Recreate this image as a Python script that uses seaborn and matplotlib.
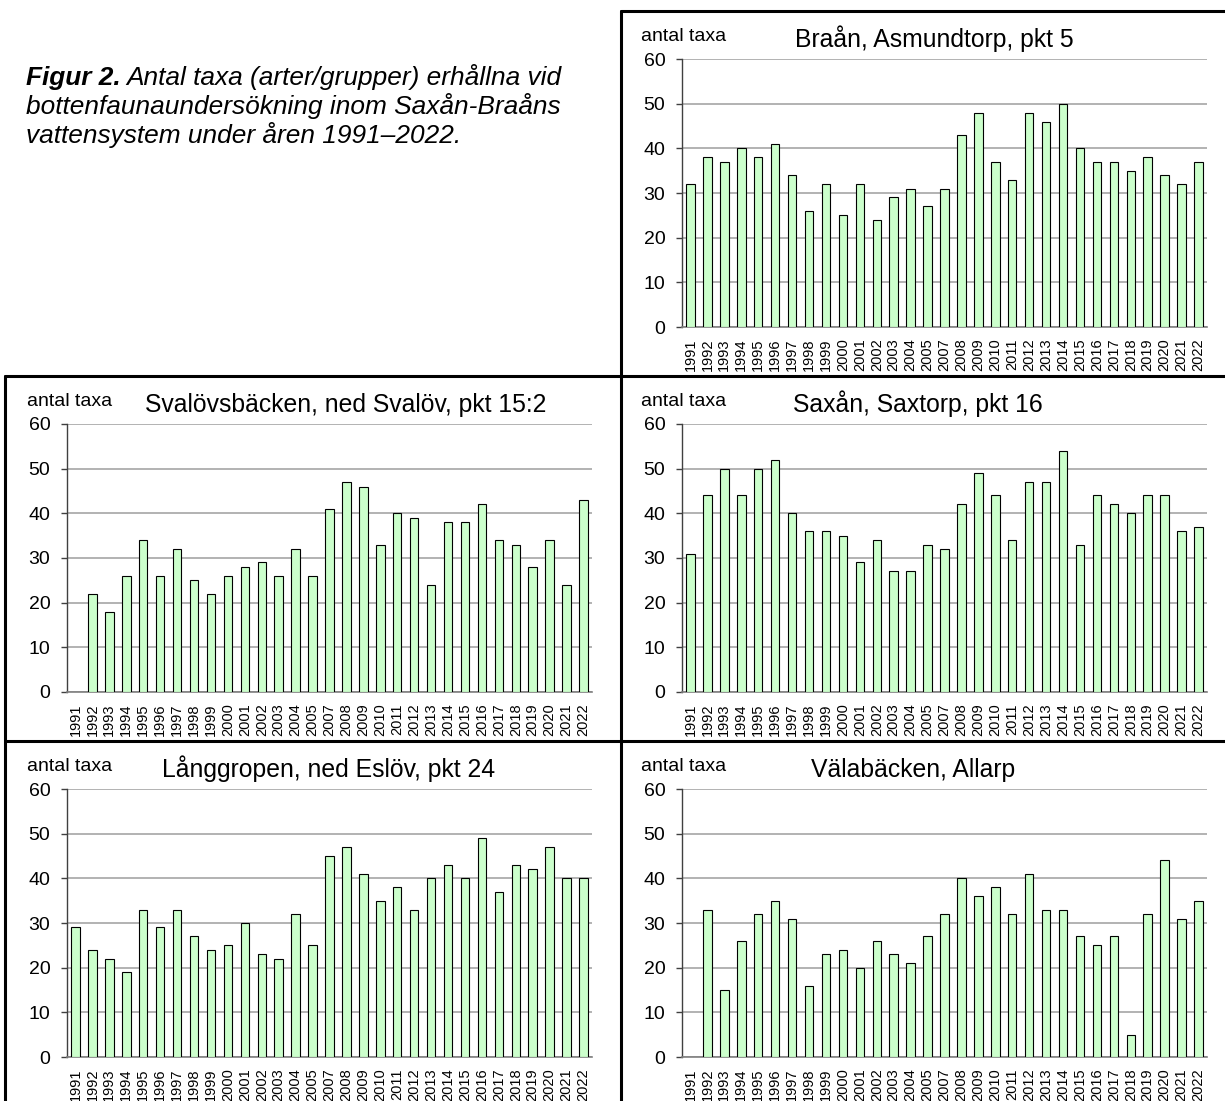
import numpy as np
import pandas as pd
import matplotlib
matplotlib.use("Agg")
import matplotlib.pyplot as plt
import seaborn as sns
from matplotlib.lines import Line2D

# Sampling years (no survey in 2006)
years = ["1991", "1992", "1993", "1994", "1995", "1996", "1997", "1998",
         "1999", "2000", "2001", "2002", "2003", "2004", "2005", "2007",
         "2008", "2009", "2010", "2011", "2012", "2013", "2014", "2015",
         "2016", "2017", "2018", "2019", "2020", "2021", "2022"]

# Number of taxa per site
braan = [32, 38, 37, 40, 38, 41, 34, 26, 32, 25, 32, 24, 29, 31, 27, 31,
         43, 48, 37, 33, 48, 46, 50, 40, 37, 37, 35, 38, 34, 32, 37]
svalovsbacken = [np.nan, 22, 18, 26, 34, 26, 32, 25, 22, 26, 28, 29, 26, 32, 26, 41,
                 47, 46, 33, 40, 39, 24, 38, 38, 42, 34, 33, 28, 34, 24, 43]
saxan = [31, 44, 50, 44, 50, 52, 40, 36, 36, 35, 29, 34, 27, 27, 33, 32,
         42, 49, 44, 34, 47, 47, 54, 33, 44, 42, 40, 44, 44, 36, 37]
langgropen = [29, 24, 22, 19, 33, 29, 33, 27, 24, 25, 30, 23, 22, 32, 25, 45,
              47, 41, 35, 38, 33, 40, 43, 40, 49, 37, 43, 42, 47, 40, 40]
valabacken = [np.nan, 33, 15, 26, 32, 35, 31, 16, 23, 24, 20, 26, 23, 21, 27, 32,
              40, 36, 38, 32, 41, 33, 33, 27, 25, 27, 5, 32, 44, 31, 35]

titles = ["Braån, Asmundtorp, pkt 5",
          "Svalövsbäcken, ned Svalöv, pkt 15:2",
          "Saxån, Saxtorp, pkt 16",
          "Långgropen, ned Eslöv, pkt 24",
          "Välabäcken, Allarp"]
series = [braan, svalovsbacken, saxan, langgropen, valabacken]

sns.set_theme(style="white")
plt.rcParams["font.family"] = ["Liberation Sans", "DejaVu Sans"]

W, H = 1225, 1101
fig = plt.figure(figsize=(W / 100, H / 100), dpi=100)
fig.patch.set_facecolor("white")


def fx(px):
    return px / W


def fy(py):
    return 1 - py / H


# panel layout in pixels: axes left, axes bottom (value 0), title centre, label left
layout = [
    (682, 327, 934, 641),
    (67, 692, 346, 27),
    (682, 692, 918, 641),
    (67, 1057, 329, 27),
    (682, 1057, 913, 641),
]
ax_w, ax_h = 525, 268

for title, vals, (axl, axb, tcx, lblx) in zip(titles, series, layout):
    ax = fig.add_axes([fx(axl), fy(axb), ax_w / W, ax_h / H])
    df = pd.DataFrame({"year": years, "taxa": vals}).dropna()
    sns.barplot(data=df, x="year", y="taxa", order=years, color="#ccffcc",
                saturation=1, edgecolor="black", linewidth=0.8, width=0.5,
                errorbar=None, ax=ax, zorder=3)
    ax.set_xlim(-0.5, len(years) - 0.5)
    ax.set_ylim(0, 60)
    ax.set_yticks(range(0, 61, 10))
    ax.set_xlabel("")
    ax.set_ylabel("")
    ax.set_facecolor("white")
    ax.yaxis.grid(True, color="#a6a6a6", linewidth=1.2)
    ax.xaxis.grid(False)
    ax.set_axisbelow(True)
    for s in ("top", "right"):
        ax.spines[s].set_visible(False)
    ax.spines["left"].set_color("#404040")
    ax.spines["left"].set_linewidth(1.0)
    ax.spines["bottom"].set_color("#808080")
    ax.spines["bottom"].set_linewidth(1.2)
    ax.tick_params(axis="y", left=True, length=4, width=1, color="#404040",
                   labelsize=14, pad=8, labelcolor="black")
    ax.tick_params(axis="x", bottom=False, length=0, labelsize=10.5, pad=8,
                   labelrotation=90, labelcolor="black")

    fig.text(fx(tcx), fy(axb - 280), title, ha="center", va="baseline",
             fontsize=17.8, color="black")
    fig.text(fx(lblx), fy(axb - 286), "antal taxa", ha="left", va="baseline",
             fontsize=14, color="black")

# panel frames
frame_kw = dict(color="black", linewidth=2.2, transform=fig.transFigure)
fig.add_artist(Line2D([fx(621), fx(W)], [fy(11), fy(11)], **frame_kw))
fig.add_artist(Line2D([fx(621), fx(621)], [fy(11), fy(H)], **frame_kw))
fig.add_artist(Line2D([fx(5), fx(W)], [fy(376), fy(376)], **frame_kw))
fig.add_artist(Line2D([fx(5), fx(W)], [fy(741), fy(741)], **frame_kw))
fig.add_artist(Line2D([fx(5), fx(5)], [fy(376), fy(H)], **frame_kw))

# figure caption
cap_x = 26
cap_size = 18.9
fig.canvas.draw()
renderer = fig.canvas.get_renderer()
t0 = fig.text(fx(cap_x), fy(85), "Figur 2.", fontsize=cap_size, fontweight="bold",
              fontstyle="italic", ha="left", va="baseline", color="black")
bb = t0.get_window_extent(renderer=renderer)
fig.text(bb.x1 / W + fx(6), fy(85), "Antal taxa (arter/grupper) erhållna vid",
         fontsize=cap_size, fontstyle="italic", ha="left", va="baseline", color="black")
fig.text(fx(cap_x), fy(114), "bottenfaunaundersökning inom Saxån-Braåns",
         fontsize=cap_size, fontstyle="italic", ha="left", va="baseline", color="black")
fig.text(fx(cap_x), fy(143), "vattensystem under åren 1991–2022.",
         fontsize=cap_size, fontstyle="italic", ha="left", va="baseline", color="black")

fig.savefig("out.png", dpi=100, facecolor="white")
